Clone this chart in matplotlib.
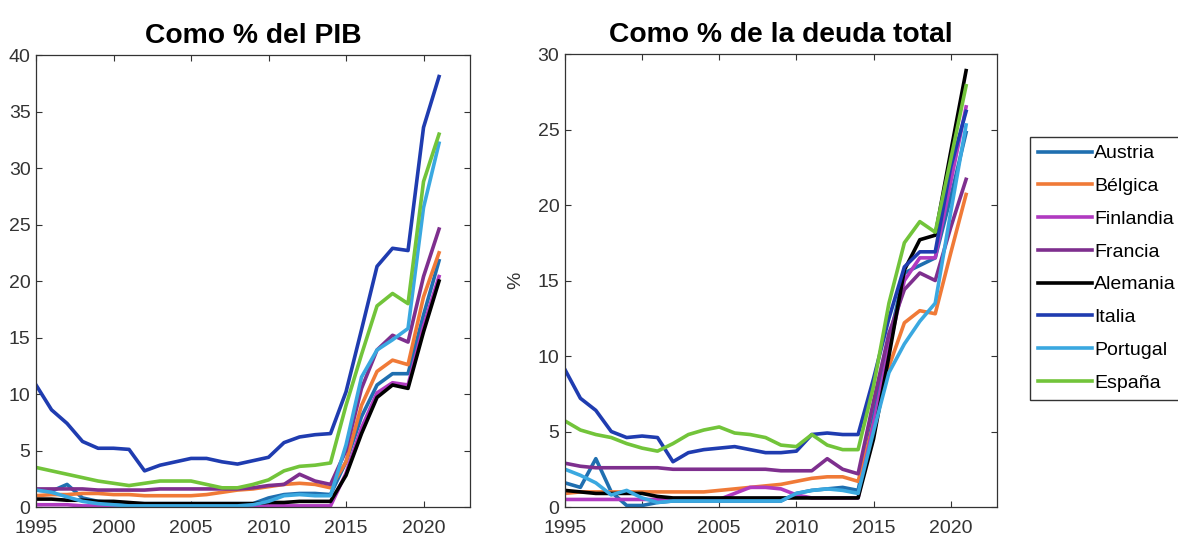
import matplotlib
matplotlib.use('Agg')
import matplotlib.pyplot as plt

plt.rcParams['font.family'] = ['Liberation Sans', 'DejaVu Sans']

years = list(range(1995, 2022))
paises = ['Austria', 'Bélgica', 'Finlandia', 'Francia', 'Alemania', 'Italia', 'Portugal', 'España']
colores = ['#1f6fb0', '#f07a37', '#b03ac0', '#7e2f8e', '#000000', '#1f3cb0', '#3aa8e0', '#72c43a']

# como % del PIB
austria_pib = [1.5, 1.4, 2.0, 0.8, 0.5, 0.4, 0.3, 0.3, 0.3, 0.3, 0.3, 0.3, 0.3, 0.3, 0.3, 0.8, 1.1, 1.2, 1.2, 1.1, 4.0, 8.0, 10.8, 11.8, 11.8, 17.0, 21.8]
belgica_pib = [1.0, 1.1, 1.1, 1.2, 1.2, 1.1, 1.1, 1.0, 1.0, 1.0, 1.0, 1.1, 1.3, 1.5, 1.6, 1.8, 2.0, 2.1, 2.0, 1.7, 4.0, 9.0, 12.0, 13.0, 12.6, 18.6, 22.5]
finlandia_pib = [0.2, 0.2, 0.2, 0.1, 0.1, 0.1, 0.1, 0.1, 0.1, 0.1, 0.1, 0.1, 0.1, 0.1, 0.1, 0.1, 0.1, 0.1, 0.1, 0.1, 3.0, 7.0, 10.1, 11.0, 10.8, 16.0, 20.4]
francia_pib = [1.6, 1.6, 1.6, 1.6, 1.5, 1.5, 1.5, 1.5, 1.6, 1.6, 1.6, 1.6, 1.6, 1.6, 1.7, 1.9, 2.0, 2.9, 2.3, 2.0, 5.0, 10.5, 13.9, 15.2, 14.6, 20.4, 24.6]
alemania_pib = [0.7, 0.7, 0.6, 0.6, 0.5, 0.5, 0.4, 0.3, 0.3, 0.3, 0.3, 0.3, 0.3, 0.3, 0.3, 0.4, 0.4, 0.5, 0.5, 0.5, 2.8, 6.5, 9.7, 10.8, 10.5, 15.5, 20.0]
italia_pib = [10.8, 8.6, 7.4, 5.8, 5.2, 5.2, 5.1, 3.2, 3.7, 4.0, 4.3, 4.3, 4.0, 3.8, 4.1, 4.4, 5.7, 6.2, 6.4, 6.5, 10.2, 15.7, 21.3, 22.9, 22.7, 33.6, 38.1]
portugal_pib = [1.5, 1.3, 0.9, 0.5, 0.3, 0.2, 0.1, 0.1, 0.1, 0.1, 0.1, 0.1, 0.1, 0.1, 0.2, 0.5, 1.0, 1.1, 1.0, 1.0, 5.5, 11.5, 13.9, 14.8, 15.8, 26.5, 32.2]
espana_pib = [3.5, 3.2, 2.9, 2.6, 2.3, 2.1, 1.9, 2.1, 2.3, 2.3, 2.3, 2.0, 1.7, 1.7, 2.0, 2.4, 3.2, 3.6, 3.7, 3.9, 9.0, 13.5, 17.8, 18.9, 18.0, 28.8, 33.0]

# como % de la deuda total
austria_deuda = [1.6, 1.3, 3.2, 1.0, 0.1, 0.1, 0.3, 0.4, 0.4, 0.4, 0.4, 0.4, 0.4, 0.4, 0.4, 0.9, 1.1, 1.2, 1.3, 1.1, 6.0, 11.0, 15.5, 16.0, 16.5, 20.5, 24.8]
belgica_deuda = [0.9, 1.0, 1.0, 1.0, 1.0, 1.0, 1.0, 1.0, 1.0, 1.0, 1.1, 1.2, 1.3, 1.4, 1.5, 1.7, 1.9, 2.0, 2.0, 1.7, 5.5, 9.3, 12.2, 13.0, 12.8, 16.8, 20.7]
finlandia_deuda = [0.5, 0.5, 0.5, 0.5, 0.5, 0.5, 0.5, 0.5, 0.5, 0.5, 0.5, 0.9, 1.3, 1.3, 1.2, 0.8, 0.6, 0.6, 0.6, 0.6, 5.5, 10.5, 15.0, 16.5, 16.5, 21.5, 26.5]
francia_deuda = [2.9, 2.7, 2.6, 2.6, 2.6, 2.6, 2.6, 2.5, 2.5, 2.5, 2.5, 2.5, 2.5, 2.5, 2.4, 2.4, 2.4, 3.2, 2.5, 2.2, 7.0, 11.5, 14.4, 15.5, 15.0, 18.5, 21.7]
alemania_deuda = [1.1, 1.0, 0.9, 0.9, 0.9, 0.9, 0.7, 0.6, 0.6, 0.6, 0.6, 0.6, 0.6, 0.6, 0.6, 0.6, 0.6, 0.6, 0.6, 0.6, 4.5, 10.0, 15.7, 17.7, 18.0, 23.5, 28.9]
italia_deuda = [9.1, 7.2, 6.4, 5.0, 4.6, 4.7, 4.6, 3.0, 3.6, 3.8, 3.9, 4.0, 3.8, 3.6, 3.6, 3.7, 4.8, 4.9, 4.8, 4.8, 8.5, 12.5, 15.9, 16.9, 16.9, 22.5, 26.2]
portugal_deuda = [2.5, 2.1, 1.6, 0.8, 1.1, 0.6, 0.3, 0.4, 0.4, 0.4, 0.4, 0.4, 0.4, 0.4, 0.4, 0.9, 1.1, 1.2, 1.1, 0.9, 5.0, 8.9, 10.8, 12.3, 13.5, 19.5, 25.3]
espana_deuda = [5.7, 5.1, 4.8, 4.6, 4.2, 3.9, 3.7, 4.2, 4.8, 5.1, 5.3, 4.9, 4.8, 4.6, 4.1, 4.0, 4.8, 4.1, 3.8, 3.8, 8.0, 13.5, 17.5, 18.9, 18.2, 23.0, 27.9]

series_pib = [austria_pib, belgica_pib, finlandia_pib, francia_pib, alemania_pib, italia_pib, portugal_pib, espana_pib]
series_deuda = [austria_deuda, belgica_deuda, finlandia_deuda, francia_deuda, alemania_deuda, italia_deuda, portugal_deuda, espana_deuda]

fig = plt.figure(figsize=(11.78, 5.38), dpi=100)
ax1 = fig.add_axes([0.0306, 0.0576, 0.3684, 0.840])
ax2 = fig.add_axes([0.4796, 0.0576, 0.3667, 0.842])

for ax, series, ymax, titulo in [(ax1, series_pib, 40, 'Como % del PIB'),
                                 (ax2, series_deuda, 30, 'Como % de la deuda total')]:
    for vals, c, nombre in zip(series, colores, paises):
        ax.plot(years, vals, color=c, lw=2.6, label=nombre)
    ax.set_xlim(1995, 2023)
    ax.set_ylim(0, ymax)
    ax.set_xticks(range(1995, 2021, 5))
    ax.set_yticks(range(0, ymax + 1, 5))
    ax.tick_params(direction='in', top=True, right=True, labelsize=14,
                   colors='#333333', length=4)
    ax.tick_params(axis='x', pad=9)
    ax.tick_params(axis='y', pad=4)
    for s in ax.spines.values():
        s.set_color('#333333')
        s.set_linewidth(0.9)
    ax.set_title(titulo, fontsize=20.3, fontweight='bold', pad=9)

ax2.set_ylabel('%', fontsize=14, color='#333333', labelpad=10)

h, l = ax2.get_legend_handles_labels()
fig.legend(h, l, loc='upper left', bbox_to_anchor=(0.8744, 0.7454),
           borderaxespad=0, fontsize=14, handlelength=2.8, handletextpad=0.1,
           labelspacing=0.78, borderpad=0.4, fancybox=False,
           edgecolor='#333333', framealpha=1)

plt.savefig('out.png', dpi=100)
